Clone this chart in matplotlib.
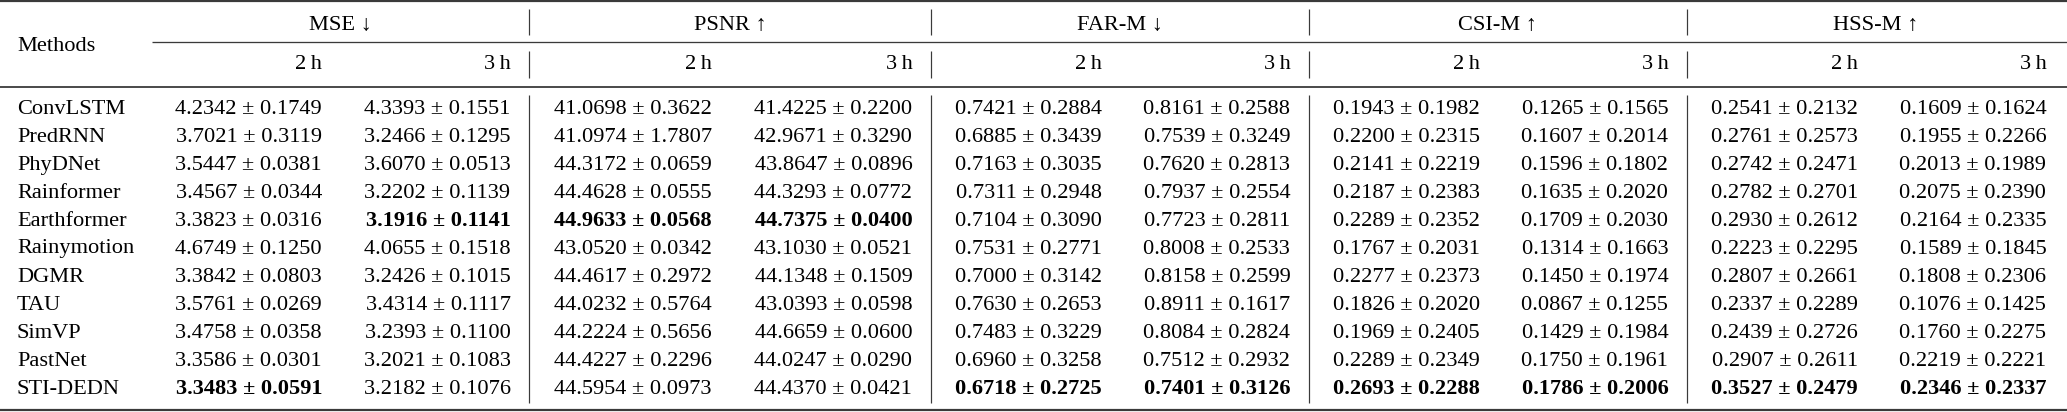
import matplotlib
matplotlib.use("Agg")
import matplotlib.pyplot as plt
import numpy as np

methods = ["ConvLSTM", "PredRNN", "PhyDNet", "Rainformer", "Earthformer", "Rainymotion",
           "DGMR", "TAU", "SimVP", "PastNet", "STI-DEDN"]

metric_names = ["MSE \u2193", "PSNR \u2191", "FAR-M \u2193", "CSI-M \u2191", "HSS-M \u2191"]
lower_better = [True, False, True, False, False]
horizons = ["2\u2009h", "3\u2009h"]

mse_2h = [4.2342, 3.7021, 3.5447, 3.4567, 3.3823, 4.6749, 3.3842, 3.5761, 3.4758, 3.3586, 3.3483]
mse_2h_std = [0.1749, 0.3119, 0.0381, 0.0344, 0.0316, 0.1250, 0.0803, 0.0269, 0.0358, 0.0301, 0.0591]
mse_3h = [4.3393, 3.2466, 3.6070, 3.2202, 3.1916, 4.0655, 3.2426, 3.4314, 3.2393, 3.2021, 3.2182]
mse_3h_std = [0.1551, 0.1295, 0.0513, 0.1139, 0.1141, 0.1518, 0.1015, 0.1117, 0.1100, 0.1083, 0.1076]
psnr_2h = [41.0698, 41.0974, 44.3172, 44.4628, 44.9633, 43.0520, 44.4617, 44.0232, 44.2224, 44.4227, 44.5954]
psnr_2h_std = [0.3622, 1.7807, 0.0659, 0.0555, 0.0568, 0.0342, 0.2972, 0.5764, 0.5656, 0.2296, 0.0973]
psnr_3h = [41.4225, 42.9671, 43.8647, 44.3293, 44.7375, 43.1030, 44.1348, 43.0393, 44.6659, 44.0247, 44.4370]
psnr_3h_std = [0.2200, 0.3290, 0.0896, 0.0772, 0.0400, 0.0521, 0.1509, 0.0598, 0.0600, 0.0290, 0.0421]
far_2h = [0.7421, 0.6885, 0.7163, 0.7311, 0.7104, 0.7531, 0.7000, 0.7630, 0.7483, 0.6960, 0.6718]
far_2h_std = [0.2884, 0.3439, 0.3035, 0.2948, 0.3090, 0.2771, 0.3142, 0.2653, 0.3229, 0.3258, 0.2725]
far_3h = [0.8161, 0.7539, 0.7620, 0.7937, 0.7723, 0.8008, 0.8158, 0.8911, 0.8084, 0.7512, 0.7401]
far_3h_std = [0.2588, 0.3249, 0.2813, 0.2554, 0.2811, 0.2533, 0.2599, 0.1617, 0.2824, 0.2932, 0.3126]
csi_2h = [0.1943, 0.2200, 0.2141, 0.2187, 0.2289, 0.1767, 0.2277, 0.1826, 0.1969, 0.2289, 0.2693]
csi_2h_std = [0.1982, 0.2315, 0.2219, 0.2383, 0.2352, 0.2031, 0.2373, 0.2020, 0.2405, 0.2349, 0.2288]
csi_3h = [0.1265, 0.1607, 0.1596, 0.1635, 0.1709, 0.1314, 0.1450, 0.0867, 0.1429, 0.1750, 0.1786]
csi_3h_std = [0.1565, 0.2014, 0.1802, 0.2020, 0.2030, 0.1663, 0.1974, 0.1255, 0.1984, 0.1961, 0.2006]
hss_2h = [0.2541, 0.2761, 0.2742, 0.2782, 0.2930, 0.2223, 0.2807, 0.2337, 0.2439, 0.2907, 0.3527]
hss_2h_std = [0.2132, 0.2573, 0.2471, 0.2701, 0.2612, 0.2295, 0.2661, 0.2289, 0.2726, 0.2611, 0.2479]
hss_3h = [0.1609, 0.1955, 0.2013, 0.2075, 0.2164, 0.1589, 0.1808, 0.1076, 0.1760, 0.2219, 0.2346]
hss_3h_std = [0.1624, 0.2266, 0.1989, 0.2390, 0.2335, 0.1845, 0.2306, 0.1425, 0.2275, 0.2221, 0.2337]

columns = [
    (mse_2h, mse_2h_std), (mse_3h, mse_3h_std),
    (psnr_2h, psnr_2h_std), (psnr_3h, psnr_3h_std),
    (far_2h, far_2h_std), (far_3h, far_3h_std),
    (csi_2h, csi_2h_std), (csi_3h, csi_3h_std),
    (hss_2h, hss_2h_std), (hss_3h, hss_3h_std),
]

# layout, in pixels
W, H = 2067, 412
PAD_L = 17
PAD = 18
method_w = 151.5
group_w = [188.5, 200.4, 188.5, 188.5, 188.5]
bar_w = 1.0
FONT = ["Liberation Serif", "DejaVu Serif"]
FS = 16.1
RULE = "#3a3a3a"

y_head1 = 30
y_head2 = 68.5
y_methods = 51
y_cmid = 42
y_mid = 87
y_row0 = 113.5
row_h = 28.0

fig = plt.figure(figsize=(W / 100, H / 100), dpi=100)
ax = fig.add_axes([0, 0, 1, 1])
ax.set_xlim(0, W)
ax.set_ylim(H, 0)
ax.axis("off")


def px(v):
    return v * 72 / 100


# column boundaries
col_edges = []
group_spans = []
bars = []
x = method_w
for gi, w in enumerate(group_w):
    start = x
    col_edges.append((x, x + w))
    col_edges.append((x + w, x + 2 * w))
    x += 2 * w
    group_spans.append((start, x))
    if gi < len(group_w) - 1:
        bars.append(x + bar_w / 2)
        x += bar_w

# rules
ax.plot([0, W], [1.2, 1.2], color=RULE, lw=px(2.2), solid_capstyle="butt")
ax.plot([method_w, W], [y_cmid, y_cmid], color=RULE, lw=px(1.3), solid_capstyle="butt")
ax.plot([0, W], [y_mid, y_mid], color=RULE, lw=px(1.8), solid_capstyle="butt")
ax.plot([0, W], [H - 2.0, H - 2.0], color=RULE, lw=px(2.2), solid_capstyle="butt")
for bx in bars:
    for y0, y1 in [(9, 35), (51, 78), (95, 403)]:
        ax.plot([bx, bx], [y0, y1], color=RULE, lw=px(1.2), solid_capstyle="butt")

# header
ax.text(PAD_L, y_methods, "Methods", ha="left", va="baseline", family=FONT, fontsize=FS)
for name, (s, e) in zip(metric_names, group_spans):
    ax.text((s + e) / 2, y_head1, name, ha="center", va="baseline", family=FONT, fontsize=FS)
for ci, (s, e) in enumerate(col_edges):
    ax.text(e - PAD, y_head2, horizons[ci % 2], ha="right", va="baseline", family=FONT, fontsize=FS)

# body
for ri, m in enumerate(methods):
    y = y_row0 + ri * row_h
    ax.text(PAD_L, y, m, ha="left", va="baseline", family=FONT, fontsize=FS)

for ci, (means, stds) in enumerate(columns):
    means = np.array(means)
    best = means.argmin() if lower_better[ci // 2] else means.argmax()
    s, e = col_edges[ci]
    for ri in range(len(methods)):
        y = y_row0 + ri * row_h
        label = f"{means[ri]:.4f} \u00b1 {stds[ri]:.4f}"
        weight = "bold" if ri == best else "normal"
        ax.text(e - PAD, y, label, ha="right", va="baseline", family=FONT,
                fontsize=FS, fontweight=weight)

fig.savefig("out.png", dpi=100)
